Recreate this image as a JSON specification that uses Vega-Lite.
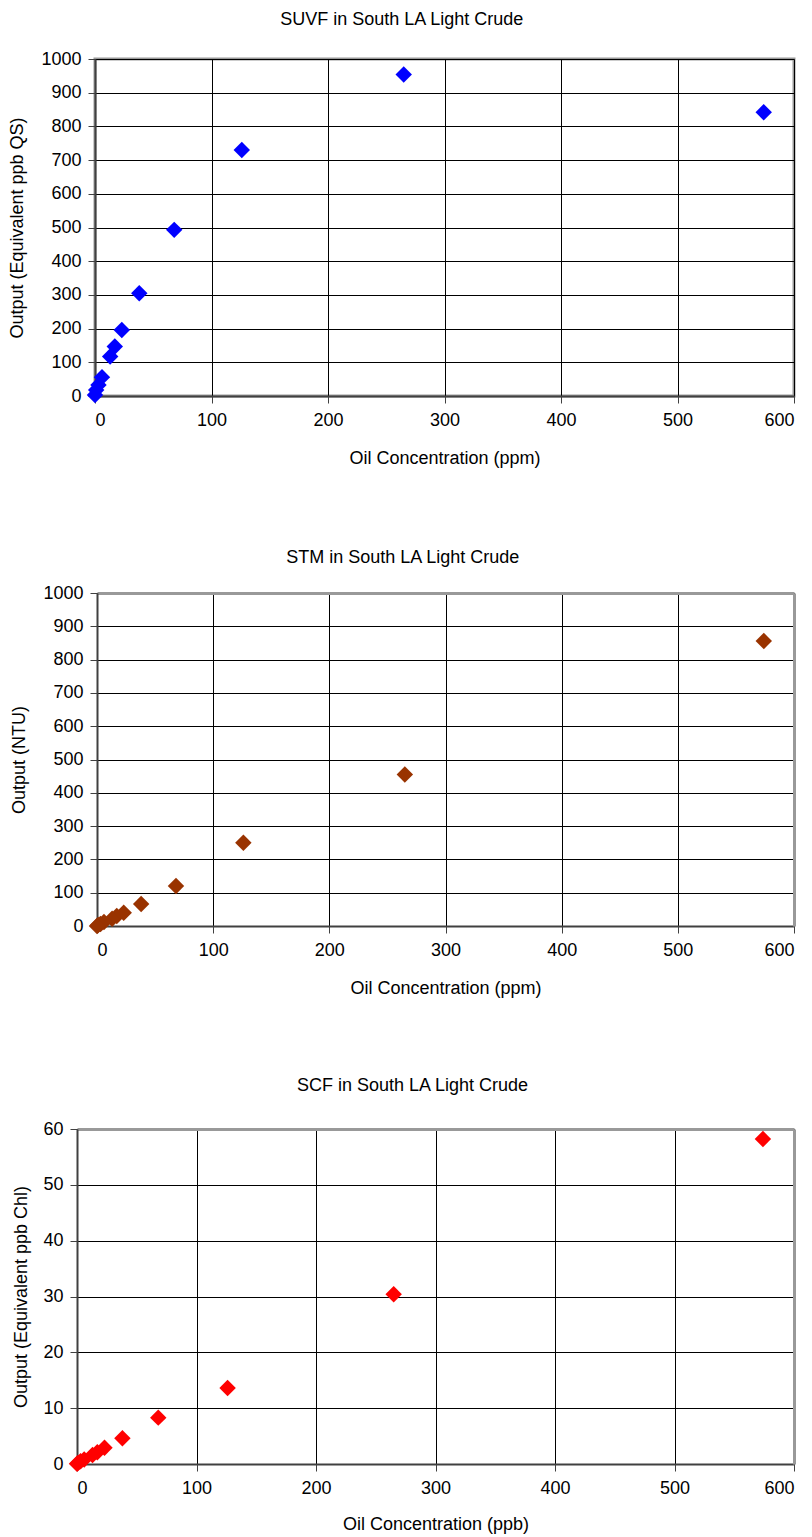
{
  "$schema": "https://vega.github.io/schema/vega-lite/v6.json",
  "padding": {"left": 7, "top": 9, "right": 5, "bottom": 5},
  "background": "white",
  "spacing": 80,
  "datasets": {
    "suvf": [
      {"conc": 574, "output": 842},
      {"conc": 265, "output": 954},
      {"conc": 126, "output": 730},
      {"conc": 68, "output": 493},
      {"conc": 38, "output": 305},
      {"conc": 23, "output": 196},
      {"conc": 17, "output": 147},
      {"conc": 13, "output": 117},
      {"conc": 6, "output": 56},
      {"conc": 3, "output": 33},
      {"conc": 1, "output": 18},
      {"conc": 0, "output": 3}
    ],
    "stm": [
      {"conc": 574, "output": 856},
      {"conc": 265, "output": 455},
      {"conc": 126, "output": 250},
      {"conc": 68, "output": 120},
      {"conc": 38, "output": 66},
      {"conc": 23, "output": 40},
      {"conc": 17, "output": 30},
      {"conc": 13, "output": 22},
      {"conc": 6, "output": 12},
      {"conc": 3, "output": 6},
      {"conc": 1, "output": 3},
      {"conc": 0, "output": 0}
    ],
    "scf": [
      {"conc": 574, "output": 58.2},
      {"conc": 265, "output": 30.4},
      {"conc": 126, "output": 13.6},
      {"conc": 68, "output": 8.3},
      {"conc": 38, "output": 4.6},
      {"conc": 23, "output": 2.9},
      {"conc": 17, "output": 2.1},
      {"conc": 13, "output": 1.6},
      {"conc": 6, "output": 0.8},
      {"conc": 3, "output": 0.5},
      {"conc": 1, "output": 0.2},
      {"conc": 0, "output": 0.05}
    ]
  },
  "config": {
    "font": "Liberation Sans",
    "view": {"stroke": "#999999", "strokeWidth": 3},
    "title": {"fontSize": 18, "fontWeight": "normal", "color": "black", "frame": "bounds", "anchor": "middle", "offset": 21},
    "axis": {
      "labelFont": "Liberation Sans",
      "titleFont": "Liberation Sans",
      "labelFontSize": 18,
      "titleFontSize": 18,
      "titleFontWeight": "normal",
      "labelColor": "black",
      "titleColor": "black",
      "gridColor": "black",
      "gridWidth": 1,
      "gridOpacity": 1,
      "domainColor": "#404040",
      "domainWidth": 2,
      "tickColor": "#404040",
      "tickWidth": 1,
      "tickSize": 7,
      "labelPadding": 7
    },
    "axisX": {"titlePadding": 20, "labelPadding": 8},
    "axisY": {"titlePadding": 12, "format": "d"}
  },
  "vconcat": [
    {
      "title": "SUVF in South LA Light Crude",
      "width": 699,
      "height": 337,
      "data": {"name": "suvf"},
      "mark": {"type": "point", "shape": "diamond", "filled": true, "size": 270, "opacity": 1, "color": "#0000FF"},
      "encoding": {
        "x": {"field": "conc", "type": "quantitative", "scale": {"domain": [0, 600], "nice": false}, "axis": {"values": [0, 100, 200, 300, 400, 500, 600], "title": "Oil Concentration (ppm)"}},
        "y": {"field": "output", "type": "quantitative", "scale": {"domain": [0, 1000], "nice": false}, "axis": {"values": [0, 100, 200, 300, 400, 500, 600, 700, 800, 900, 1000], "title": "Output (Equivalent ppb QS)", "titlePadding": 14}}
      }
    },
    {
      "title": {"text": "STM in South LA Light Crude", "offset": 17},
      "width": 699,
      "height": 333,
      "view": {"stroke": null},
      "data": {"name": "stm"},
      "layer": [
        {
          "mark": {"type": "point", "shape": "diamond", "filled": true, "size": 270, "opacity": 1, "color": "#993300"},
          "encoding": {
            "x": {"field": "conc", "type": "quantitative", "scale": {"domain": [0, 600], "nice": false, "range": [2, 699]}, "axis": {"values": [0, 100, 200, 300, 400, 500, 600], "title": "Oil Concentration (ppm)"}},
            "y": {"field": "output", "type": "quantitative", "scale": {"domain": [0, 1000], "nice": false}, "axis": {"values": [0, 100, 200, 300, 400, 500, 600, 700, 800, 900, 1000], "title": "Output (NTU)", "titlePadding": 14, "offset": -2}}
          }
        },
        {
          "mark": {"type": "point", "opacity": 0},
          "encoding": {
            "x": {"field": "conc", "type": "quantitative", "axis": {"orient": "top", "labels": false, "ticks": false, "grid": false, "title": null, "domainColor": "#999999", "domainWidth": 3}},
            "y": {"field": "output", "type": "quantitative", "axis": {"orient": "right", "labels": false, "ticks": false, "grid": false, "title": null, "domainColor": "#999999", "domainWidth": 3}}
          }
        }
      ],
      "resolve": {"axis": {"x": "independent", "y": "independent"}}
    },
    {
      "title": {"text": "SCF in South LA Light Crude", "offset": 25},
      "width": 699,
      "height": 335,
      "view": {"stroke": null},
      "data": {"name": "scf"},
      "layer": [
        {
          "mark": {"type": "point", "shape": "diamond", "filled": true, "size": 270, "opacity": 1, "color": "#FF0000"},
          "encoding": {
            "x": {"field": "conc", "type": "quantitative", "scale": {"domain": [0, 600], "nice": false, "range": [-18, 699]}, "axis": {"values": [0, 100, 200, 300, 400, 500, 600], "title": "Oil Concentration (ppb)", "titlePadding": 18}},
            "y": {"field": "output", "type": "quantitative", "scale": {"domain": [0, 60], "nice": false}, "axis": {"values": [0, 10, 20, 30, 40, 50, 60], "title": "Output (Equivalent ppb Chl)", "offset": 18}}
          }
        },
        {
          "mark": {"type": "point", "opacity": 0},
          "encoding": {
            "x": {"field": "conc", "type": "quantitative", "axis": {"orient": "top", "labels": false, "ticks": false, "grid": false, "title": null, "domainColor": "#999999", "domainWidth": 3}},
            "y": {"field": "output", "type": "quantitative", "axis": {"orient": "right", "labels": false, "ticks": false, "grid": false, "title": null, "domainColor": "#999999", "domainWidth": 3}}
          }
        }
      ],
      "resolve": {"axis": {"x": "independent", "y": "independent"}}
    }
  ]
}
